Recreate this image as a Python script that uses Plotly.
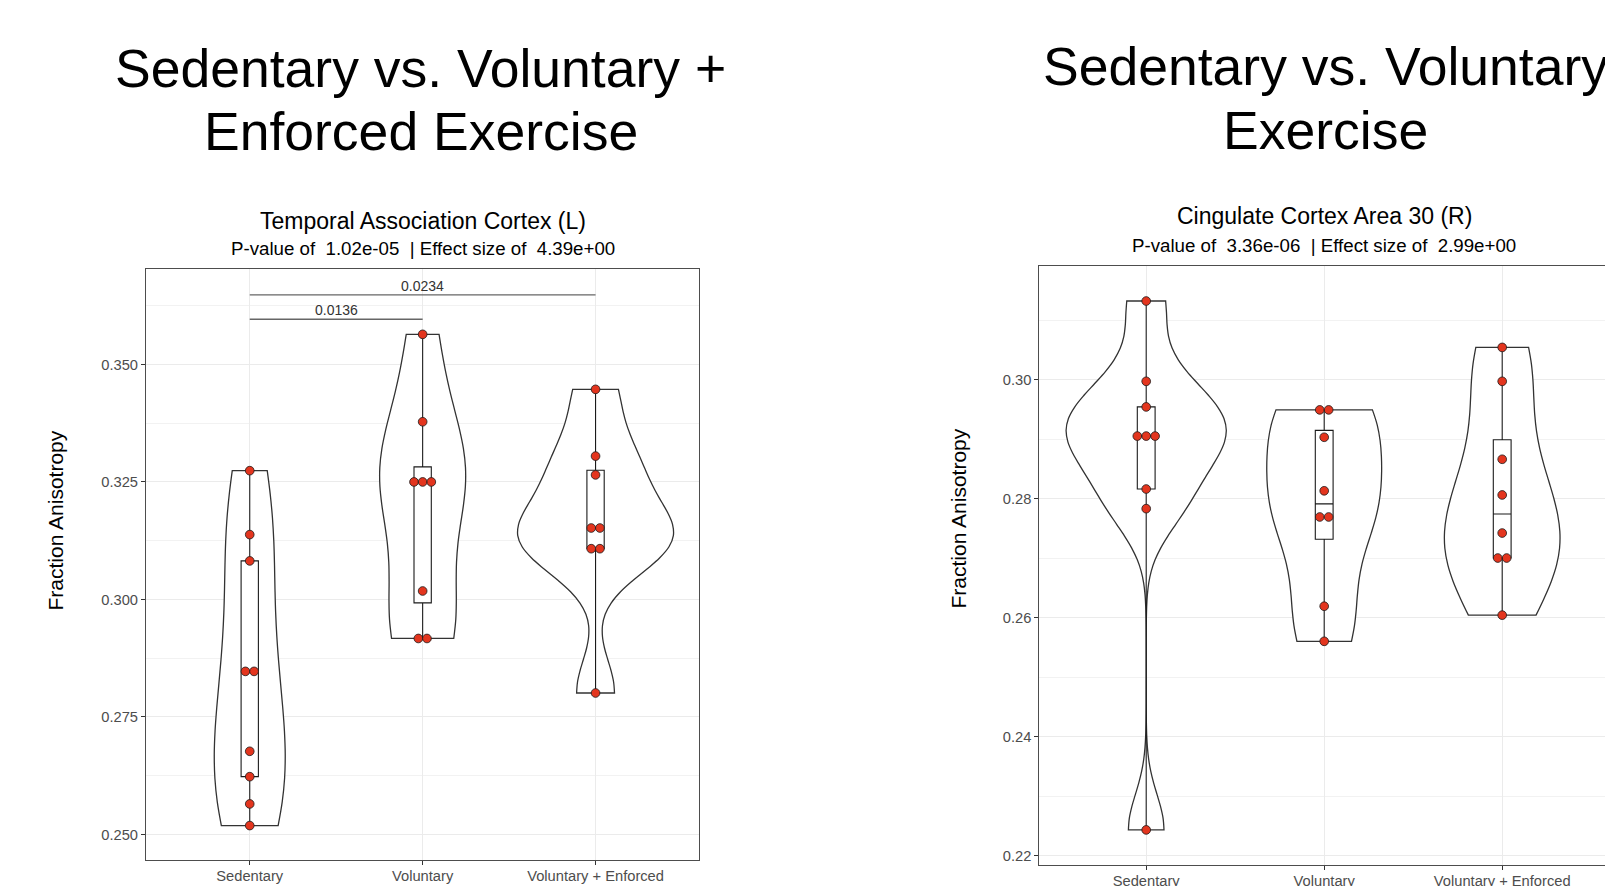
import numpy as np
import plotly.graph_objects as go

# ---------------- data ----------------
categories = ["Sedentary", "Voluntary", "Voluntary + Enforced"]
cat_pos = [1, 2, 3]

# Left panel: Temporal Association Cortex (L)
tac_sedentary = [0.3274, 0.3138, 0.3082, 0.2847, 0.2847, 0.2677, 0.2623, 0.2565, 0.2519]
tac_voluntary = [0.3564, 0.3378, 0.3250, 0.3250, 0.3250, 0.3018, 0.2917, 0.2917]
tac_vol_enf = [0.3447, 0.3305, 0.3265, 0.3152, 0.3152, 0.3108, 0.3108, 0.2801]

# Right panel: Cingulate Cortex Area 30 (R)
cc_sedentary = [0.3132, 0.2997, 0.2954, 0.2905, 0.2905, 0.2905, 0.2816, 0.2783, 0.2243]
cc_voluntary = [0.2949, 0.2949, 0.2903, 0.2813, 0.2769, 0.2769, 0.2619, 0.2560]
cc_vol_enf = [0.3054, 0.2997, 0.2866, 0.2806, 0.2742, 0.2700, 0.2700, 0.2604]

# significance brackets (left panel)
sig_from = [1, 1]
sig_to = [2, 3]
sig_labels = ["0.0136", "0.0234"]
sig_y = [0.3596, 0.3648]

headings = [["Sedentary vs. Voluntary +", "Enforced Exercise"],
            ["Sedentary vs. Voluntary", "Exercise"]]
panel_titles = ["Temporal Association Cortex (L)", "Cingulate Cortex Area 30 (R)"]
panel_subtitles = ["P-value of  1.02e-05  | Effect size of  4.39e+00",
                   "P-value of  3.36e-06  | Effect size of  2.99e+00"]
y_label = "Fraction Anisotropy"

# ---------------- helpers ----------------
W, H = 1605, 886
FONT = "Liberation Sans, Arial, Helvetica, sans-serif"
PT_COLOR = "#E3351E"


def px(x):
    return x / W


def py(y):
    return 1 - y / H


def nrd0(v):
    v = np.asarray(v, float)
    sd = v.std(ddof=1)
    iqr = np.percentile(v, 75) - np.percentile(v, 25)
    lo = min(sd, iqr / 1.34)
    if lo <= 0:
        lo = sd if sd > 0 else abs(v[0]) if v[0] != 0 else 1.0
    return 0.9 * lo * len(v) ** (-0.2)


def kde_peak(v, bw):
    v = np.asarray(v, float)
    g = np.linspace(v.min(), v.max(), 512)
    d = np.exp(-0.5 * ((g[:, None] - v[None, :]) / bw) ** 2).sum(1)
    d /= len(v) * bw * np.sqrt(2 * np.pi)
    return d.max()


def swarm(v, step=0.05):
    v = np.round(np.asarray(v, float), 5)
    offs = np.zeros(len(v))
    for val in np.unique(v):
        idx = np.where(v == val)[0]
        k = len(idx)
        for j, i in enumerate(idx):
            offs[i] = (j - (k - 1) / 2) * step
    return offs


fig = go.Figure()


def add_panel(groups, xa, ya):
    bws = [nrd0(g) for g in groups]
    peaks = [kde_peak(g, b) for g, b in zip(groups, bws)]
    pmax = max(peaks)
    for pos, g, bw, pk in zip(cat_pos, groups, bws, peaks):
        fig.add_trace(go.Violin(
            x=[pos] * len(g), y=g, xaxis=xa, yaxis=ya,
            bandwidth=bw, spanmode="hard", width=0.9 * pk / pmax,
            fillcolor="white", line=dict(color="#333333", width=1.3),
            points=False, box_visible=False, meanline_visible=False,
            hoverinfo="skip", showlegend=False))
        arr = np.asarray(g)
        fig.add_trace(go.Box(
            x=[pos], q1=[np.percentile(arr, 25)], median=[np.median(arr)],
            q3=[np.percentile(arr, 75)], lowerfence=[arr.min()],
            upperfence=[arr.max()], xaxis=xa, yaxis=ya, width=0.1,
            whiskerwidth=0, fillcolor="white",
            line=dict(color="#1a1a1a", width=1.1),
            boxpoints=False, showlegend=False, hoverinfo="skip"))
        fig.add_trace(go.Scatter(
            x=pos + swarm(g), y=g, mode="markers", xaxis=xa, yaxis=ya,
            marker=dict(size=8.7, color=PT_COLOR,
                        line=dict(color="#1a1a1a", width=0.8)),
            showlegend=False, hoverinfo="skip"))


add_panel([tac_sedentary, tac_voluntary, tac_vol_enf], "x", "y")
add_panel([cc_sedentary, cc_voluntary, cc_vol_enf], "x2", "y2")

# significance brackets
shapes = []
annotations = []
for a, b, lab, yy in zip(sig_from, sig_to, sig_labels, sig_y):
    shapes.append(dict(type="line", xref="x", yref="y", x0=a, x1=b, y0=yy, y1=yy,
                       line=dict(color="#666666", width=1.4)))
    annotations.append(dict(x=(a + b) / 2, y=yy, xref="x", yref="y", text=lab,
                            showarrow=False, xanchor="center", yanchor="bottom",
                            yshift=-1,
                            font=dict(family=FONT, size=14, color="#333333")))

# big headings
head_pos = [(420.5, [68.3, 131.7]), (1325.5, [66.0, 130.0])]
for (cx, ys), lines in zip(head_pos, headings):
    for yy, t in zip(ys, lines):
        annotations.append(dict(x=px(cx), y=py(yy), xref="paper", yref="paper",
                                text=t, showarrow=False, xanchor="center",
                                yanchor="middle",
                                font=dict(family=FONT, size=53.5, color="black")))

# panel titles / subtitles
title_pos = [(422.6, 221.0, 248.8), (1324.0, 216.2, 245.0)]
for (cx, ty, sy), t, s in zip(title_pos, panel_titles, panel_subtitles):
    annotations.append(dict(x=px(cx), y=py(ty), xref="paper", yref="paper", text=t,
                            showarrow=False, xanchor="center", yanchor="middle",
                            font=dict(family=FONT, size=23, color="black")))
    annotations.append(dict(x=px(cx), y=py(sy), xref="paper", yref="paper", text=s,
                            showarrow=False, xanchor="center", yanchor="middle",
                            font=dict(family=FONT, size=18.7, color="black")))

# y-axis titles
for cx, cy in [(55.0, 520.5), (958.0, 518.5)]:
    annotations.append(dict(x=px(cx), y=py(cy), xref="paper", yref="paper",
                            text=y_label, textangle=-90, showarrow=False,
                            xanchor="center", yanchor="middle",
                            font=dict(family=FONT, size=21, color="black")))

axis_common = dict(showgrid=True, gridcolor="#EBEBEB", gridwidth=1,
                   zeroline=False, showline=True, linecolor="#4d4d4d", linewidth=1,
                   ticks="outside", ticklen=4, tickwidth=1, tickcolor="#333333",
                   automargin=False,
                   tickfont=dict(family=FONT, size=14.7, color="#4D4D4D"))

fig.update_layout(
    width=W, height=H, margin=dict(l=0, r=0, t=0, b=0, autoexpand=False),
    paper_bgcolor="white", plot_bgcolor="white",
    violinmode="overlay", boxmode="overlay", showlegend=False,
    shapes=shapes, annotations=annotations,
    xaxis=dict(domain=[px(146), px(699.3)], range=[0.4, 3.6], anchor="y",
               tickvals=cat_pos, ticktext=categories, mirror=True,
               ticklabelstandoff=-2, **axis_common),
    yaxis=dict(domain=[py(860.2), py(269.0)], range=[0.24453, 0.3703], anchor="x",
               tick0=0.25, dtick=0.025, tickformat=".3f", mirror=True,
               minor=dict(dtick=0.0125, tick0=0.2375, showgrid=True,
                          gridcolor="#F2F2F2", gridwidth=0.7, ticks=""),
               **axis_common),
    xaxis2=dict(domain=[px(1039.4), 1.0], range=[0.4, 3.5775], anchor="y2",
                tickvals=cat_pos, ticktext=categories, mirror=True,
                ticklabelstandoff=-2, **axis_common),
    yaxis2=dict(domain=[py(864.9), py(265.5)], range=[0.21842, 0.31917], anchor="x2",
                tick0=0.22, dtick=0.02, tickformat=".2f", mirror=False,
                minor=dict(dtick=0.01, tick0=0.21, showgrid=True,
                           gridcolor="#F2F2F2", gridwidth=0.7, ticks=""),
                **axis_common),
)

fig.write_html("out.html")
